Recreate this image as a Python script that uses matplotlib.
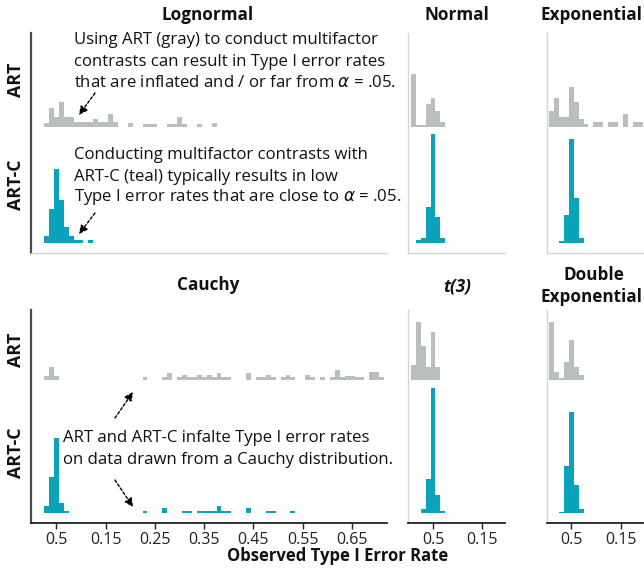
import matplotlib
matplotlib.use("Agg")
import matplotlib.pyplot as plt

plt.rcParams['font.family'] = ['Open Sans', 'DejaVu Sans']

GRAY = '#b9bebe'
TEAL = '#0aa3ba'
DARK = '#4d4d4d'
LIGHT = '#d4d4d4'

# bin centers (bin width .01) and bar heights
logn_art_x = [0.03, 0.04, 0.05, 0.06, 0.07, 0.08, 0.09, 0.10, 0.11, 0.12, 0.13, 0.14, 0.15, 0.16, 0.17,
              0.20, 0.23, 0.24, 0.25, 0.28, 0.29, 0.30, 0.31, 0.34, 0.37]
logn_art_y = [4, 19, 10, 24.5, 10, 10, 5, 5, 5, 5, 7.5, 5, 5, 12.5, 5,
              3.5, 2.5, 2.5, 2.5, 2.5, 2.5, 10, 2.5, 2.5, 4]
logn_artc_x = [0.03, 0.04, 0.05, 0.06, 0.07, 0.08, 0.09, 0.10, 0.12]
logn_artc_y = [7.5, 34, 74, 43, 16.5, 7.5, 2.7, 2.7, 2.7]

norm_art_x = [0.01, 0.02, 0.03, 0.04, 0.05, 0.06, 0.07]
norm_art_y = [53, 1.5, 1.5, 23, 29, 15.5, 5]
norm_artc_x = [0.02, 0.03, 0.04, 0.05, 0.06, 0.07]
norm_artc_y = [2.7, 5, 36.5, 109, 26, 5]

expo_art_x = [0.01, 0.02, 0.03, 0.04, 0.05, 0.06, 0.07, 0.08, 0.10, 0.11, 0.13, 0.14, 0.16, 0.18, 0.19]
expo_art_y = [15.5, 29, 10, 10, 40, 25, 8, 2.5, 5, 5, 5, 5, 12.5, 4.3, 4.3]
expo_artc_x = [0.03, 0.04, 0.05, 0.06, 0.07]
expo_artc_y = [2.5, 28.5, 104, 45, 5]

cauchy_art_x = [0.03, 0.04, 0.05, 0.23, 0.27, 0.28, 0.30, 0.31, 0.32, 0.33, 0.34, 0.35, 0.36, 0.37, 0.38,
                0.39, 0.40, 0.44, 0.46, 0.47, 0.48, 0.49, 0.51, 0.52, 0.53, 0.56, 0.57, 0.59, 0.61,
                0.62, 0.63, 0.64, 0.65, 0.66, 0.67, 0.69, 0.70, 0.71]
cauchy_art_y = [4.3, 12.5, 4.3, 2.7, 2.7, 6.7, 2.7, 5, 2.7, 2.7, 5, 2.7, 5, 2.7, 6.7,
                2.7, 2.7, 6.7, 2.7, 2.7, 5, 2.7, 2.7, 5, 2.7, 5, 2.7, 2.7, 2.7,
                10, 2.7, 4.3, 4.3, 2.7, 2.7, 7.7, 7.7, 2.7]
cauchy_artc_x = [0.03, 0.04, 0.05, 0.06, 0.07, 0.23, 0.27, 0.31, 0.32, 0.34, 0.35, 0.36, 0.37, 0.38,
                 0.39, 0.40, 0.44, 0.48, 0.49, 0.53]
cauchy_artc_y = [7.3, 36.5, 75, 10, 2.7, 2.7, 5, 2.7, 2.7, 2.7, 2.7, 2.7, 2.7, 7.3,
                 2.7, 2.7, 5, 2.7, 2.7, 2.7]

t3_art_x = [0.01, 0.02, 0.03, 0.04, 0.05, 0.06]
t3_art_y = [15, 58, 34, 12.7, 47.5, 12.7]
t3_artc_x = [0.03, 0.04, 0.05, 0.06, 0.07]
t3_artc_y = [4, 34, 125.5, 18, 2.7]

dexp_art_x = [0.01, 0.02, 0.03, 0.04, 0.05, 0.06, 0.07]
dexp_art_y = [58, 8.3, 2.3, 18.3, 40, 12.7, 5]
dexp_artc_x = [0.03, 0.04, 0.05, 0.06, 0.07]
dexp_artc_y = [1.7, 47, 101, 28.5, 4.3]

wide_ticks = [0.05, 0.15, 0.25, 0.35, 0.45, 0.55, 0.65]
wide_labels = ['0.5', '0.15', '0.25', '0.35', '0.45', '0.55', '0.65']
small_ticks = [0.05, 0.15]
small_labels = ['0.5', '0.15']

W, H = 644, 571
fig = plt.figure(figsize=(W / 100, H / 100), dpi=100)


def px_axes(x0, y0, x1, y1):
    return fig.add_axes([x0 / W, 1 - y1 / H, (x1 - x0) / W, (y1 - y0) / H])


def panel(x0, x1, y0, y1, xlim, art, artc, base_art, wide, bottom_row):
    ax = px_axes(x0, y0, x1, y1)
    ax.bar(art[0], art[1], width=0.01, bottom=base_art, color=GRAY, linewidth=0)
    ax.bar(artc[0], artc[1], width=0.01, bottom=10, color=TEAL, linewidth=0)
    ax.set_xlim(*xlim)
    ax.set_ylim(0, y1 - y0)
    ax.set_yticks([])
    for s in ['top', 'right']:
        ax.spines[s].set_visible(False)
    ax.spines['left'].set_color(DARK if wide else LIGHT)
    ax.spines['left'].set_linewidth(1.6 if wide else 1.0)
    if bottom_row:
        ax.spines['bottom'].set_color('#222222')
        ax.spines['bottom'].set_linewidth(1.3)
        ticks, labels = (wide_ticks, wide_labels) if wide else (small_ticks, small_labels)
        ax.set_xticks(ticks)
        ax.set_xticklabels(labels, fontsize=11.5, color='#222222')
        ax.tick_params(axis='x', length=4, width=1, color='#222222', pad=2.5)
    else:
        ax.spines['bottom'].set_color(LIGHT)
        ax.spines['bottom'].set_linewidth(1.0)
        ax.set_xticks([])
    return ax


wide_lim = (-0.0013, 0.7208)
small_lim = (0.0, 0.196)
cols = [(31, 387), (408.3, 505), (546.5, 643.2)]
top_y = (33.3, 253)
bot_y = (310, 523.3)

panel(*cols[0], *top_y, wide_lim, (logn_art_x, logn_art_y), (logn_artc_x, logn_artc_y), 126.3, True, False)
panel(*cols[1], *top_y, small_lim, (norm_art_x, norm_art_y), (norm_artc_x, norm_artc_y), 126.3, False, False)
panel(*cols[2], *top_y, small_lim, (expo_art_x, expo_art_y), (expo_artc_x, expo_artc_y), 126.3, False, False)
panel(*cols[0], *bot_y, wide_lim, (cauchy_art_x, cauchy_art_y), (cauchy_artc_x, cauchy_artc_y), 143.3, True, True)
panel(*cols[1], *bot_y, small_lim, (t3_art_x, t3_art_y), (t3_artc_x, t3_artc_y), 143.3, False, True)
panel(*cols[2], *bot_y, small_lim, (dexp_art_x, dexp_art_y), (dexp_artc_x, dexp_artc_y), 143.3, False, True)


def ftext(x, y, s, **kw):
    fig.text(x / W, 1 - y / H, s, **kw)


title_kw = dict(fontsize=12.3, fontweight='bold', va='center', color='#111111')
ftext(208, 15, 'Lognormal', ha='center', **title_kw)
ftext(456.7, 15, 'Normal', ha='center', **title_kw)
ftext(642.5, 15, 'Exponential', ha='right', **title_kw)
ftext(208, 285, 'Cauchy', ha='center', **title_kw)
ftext(456.7, 286, 't(3)', ha='center', fontstyle='italic', **title_kw)
ftext(594, 275, 'Double', ha='center', **title_kw)
ftext(642.5, 297, 'Exponential', ha='right', **title_kw)

row_kw = dict(fontsize=12.8, fontweight='bold', ha='center', va='center', rotation=90, color='#111111')
ftext(16, 80, 'ART', **row_kw)
ftext(16, 185, 'ART-C', **row_kw)
ftext(16, 350, 'ART', **row_kw)
ftext(16, 453, 'ART-C', **row_kw)

ftext(338, 556, 'Observed Type I Error Rate', fontsize=12, fontweight='bold', ha='center', va='center',
      color='#111111')

note_kw = dict(fontsize=12.1, ha='left', va='center', color='#111111')
note_top = ['Using ART (gray) to conduct multifactor',
            'contrasts can result in Type I error rates',
            'that are inflated and / or far from $\\alpha$ = .05.']
note_mid = ['Conducting multifactor contrasts with',
            'ART-C (teal) typically results in low',
            'Type I error rates that are close to $\\alpha$ = .05.']
note_bot = ['ART and ART-C infalte Type I error rates',
            'on data drawn from a Cauchy distribution.']
for line, y in zip(note_top, [40, 62, 83]):
    ftext(74, y, line, **note_kw)
for line, y in zip(note_mid, [155, 177, 197]):
    ftext(74, y, line, **note_kw)
for line, y in zip(note_bot, [438, 460]):
    ftext(63, y, line, **note_kw)


def arrow(x0, y0, x1, y1):
    fig.add_artist(matplotlib.patches.FancyArrowPatch(
        (x0 / W, 1 - y0 / H), (x1 / W, 1 - y1 / H), transform=fig.transFigure,
        arrowstyle='-|>,head_length=5,head_width=2.5', linestyle=(0, (2, 1.5)), color='black',
        linewidth=1.0, shrinkA=0, shrinkB=0))


arrow(95, 93, 79, 115)
arrow(95, 213, 79, 234)
arrow(115, 418, 133, 392)
arrow(115, 480, 133, 507)

fig.savefig('out.png', dpi=100)
